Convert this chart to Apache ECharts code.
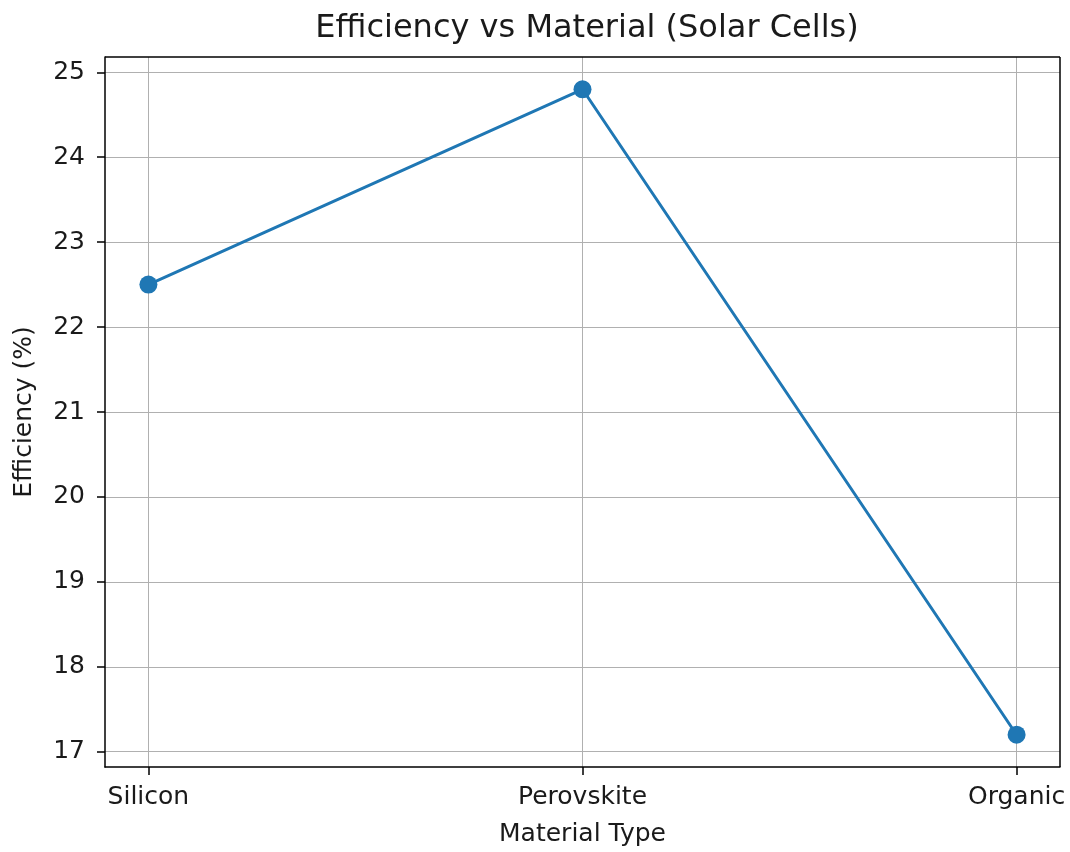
<!DOCTYPE html>
<html>
<head>
<meta charset="utf-8">
<script src="https://cdn.jsdelivr.net/npm/echarts@6/dist/echarts.min.js"></script>
<style>
  html, body { margin: 0; padding: 0; background: #fff; }
  #chart { width: 1070px; height: 852px; }
</style>
</head>
<body>
<div id="chart"></div>
<script>
// 数据
const materials = ['Silicon', 'Perovskite', 'Organic'];
const efficiency = [22.5, 24.8, 17.2];
const yTicks = [17, 18, 19, 20, 21, 22, 23, 24, 25];

const FONT = 'DejaVu Sans';
const xIdx = materials.map((m, i) => i);

const chart = echarts.init(document.getElementById('chart'));

const option = {
    animation: false,
    title: {
        text: 'Efficiency vs Material (Solar Cells)',
        left: 582,
        top: 8,
        textAlign: 'center',
        textStyle: { fontFamily: FONT, fontSize: 32, fontWeight: 'normal', color: '#1a1a1a' }
    },
    grid: { left: 105, right: 10, top: 57, bottom: 84 },
    xAxis: {
        type: 'value',
        min: -0.1,
        max: 2.1,
        name: 'Material Type',
        nameLocation: 'middle',
        nameGap: 55,
        nameTextStyle: { fontFamily: FONT, fontSize: 25, color: '#1a1a1a' },
        axisLine: { show: true, onZero: false, lineStyle: { color: '#000', width: 1.5 } },
        axisTick: { show: true, customValues: xIdx, length: 8, lineStyle: { color: '#000', width: 1.5 } },
        axisLabel: {
            customValues: xIdx,
            formatter: v => materials[Math.round(v)],
            fontFamily: FONT, fontSize: 25, color: '#1a1a1a', margin: 18
        },
        splitLine: { show: true, lineStyle: { color: '#b0b0b0', width: 1 } }
    },
    yAxis: {
        type: 'value',
        min: 16.82,
        max: 25.18,
        name: 'Efficiency (%)',
        nameLocation: 'middle',
        nameGap: 68,
        nameTextStyle: { fontFamily: FONT, fontSize: 25, color: '#1a1a1a' },
        axisLine: { show: true, onZero: false, lineStyle: { color: '#000', width: 1.5 } },
        axisTick: { show: true, customValues: yTicks, length: 8, lineStyle: { color: '#000', width: 1.5 } },
        axisLabel: {
            customValues: yTicks,
            fontFamily: FONT, fontSize: 25, color: '#1a1a1a', margin: 20
        },
        splitLine: { show: true, lineStyle: { color: '#b0b0b0', width: 1 } }
    },
    series: [
        {
            type: 'line',
            data: efficiency.map((v, i) => [i, v]),
            symbol: 'circle',
            symbolSize: 18,
            lineStyle: { color: '#1f77b4', width: 3 },
            itemStyle: { color: '#1f77b4' },
            z: 3
        },
        {
            // 顶部和右侧边框
            type: 'line',
            data: [],
            markLine: {
                silent: true,
                symbol: 'none',
                label: { show: false },
                lineStyle: { color: '#000', width: 1.5, type: 'solid' },
                data: [{ yAxis: 25.18 }, { xAxis: 2.1 }]
            }
        }
    ]
};

chart.setOption(option);
</script>
</body>
</html>
